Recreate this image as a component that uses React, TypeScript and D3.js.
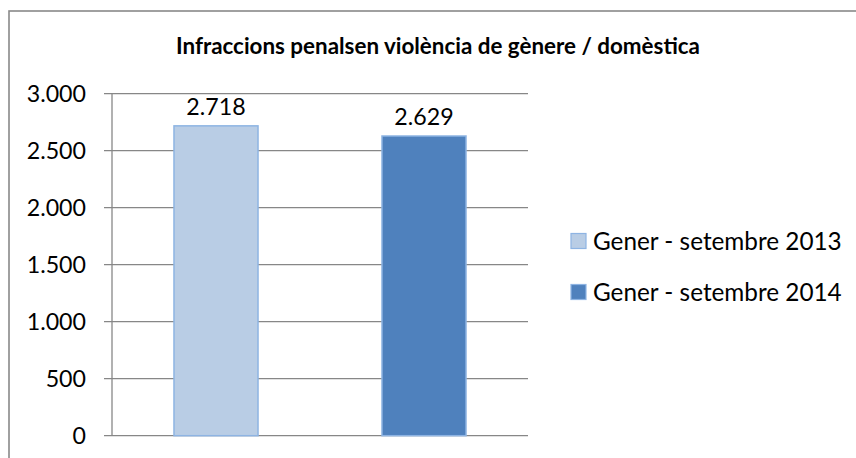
import React from 'react';
import * as d3 from 'd3';

// chart data
const categories = ['Gener - setembre 2013', 'Gener - setembre 2014'];
const values = [2718, 2629];
const colors = ['#b9cde5', '#4f81bd'];
const yTicks = [0, 500, 1000, 1500, 2000, 2500, 3000];
const title = 'Infraccions penalsen violència de gènere / domèstica';

const W = 856;
const H = 458;
const font = 'Lato, "Open Sans", sans-serif';
const fmt = (v: number) => d3.format(',')(v).replace(/,/g, '.');

const plot = {left: 112, right: 528, top: 93.7, bottom: 435.7};

export default function App() {
    const x = d3.scaleBand()
        .domain(categories)
        .range([plot.left, plot.right])
        .paddingInner(0.596)
        .paddingOuter(0.298);
    const y = d3.scaleLinear()
        .domain([0, 3000])
        .range([plot.bottom, plot.top]);

    return (
        <svg width={W} height={H} style={{position: 'absolute', left: 0, top: 0, background: '#fff'}}>
            {/* outer frame, cut by the picture edge */}
            <rect x={9} y={11} width={900} height={500} fill="#fff" stroke="#898989" strokeWidth={1.6}/>

            <text x={438} y={54} textAnchor="middle" fontFamily={font} fontWeight="bold" fontSize={22.4} fill="#000">
                {title}
            </text>

            {/* grid + y ticks */}
            {yTicks.map(t => (
                <g key={t}>
                    <line x1={plot.left - 8} x2={plot.right} y1={y(t)} y2={y(t)} stroke="#878787" strokeWidth={1.3}/>
                    <text x={86} y={y(t)} dy="0.36em" textAnchor="end" fontFamily={font} fontSize={23.2} fill="#000">
                        {fmt(t)}
                    </text>
                </g>
            ))}
            <line x1={plot.left} x2={plot.left} y1={y(3000)} y2={y(0)} stroke="#878787" strokeWidth={1.3}/>

            {/* bars */}
            {categories.map((c, i) => (
                <g key={c}>
                    <rect x={x(c)} y={y(values[i])} width={x.bandwidth()} height={y(0) - y(values[i])}
                          fill={colors[i]} stroke="#8eb4e3" strokeWidth={1.5}/>
                    <text x={(x(c) as number) + x.bandwidth() / 2} y={y(values[i]) - 11} textAnchor="middle"
                          fontFamily={font} fontSize={23.2} fill="#000">
                        {fmt(values[i])}
                    </text>
                </g>
            ))}

            {/* legend */}
            {categories.map((c, i) => (
                <g key={'lg' + c} transform={`translate(571, ${241 + i * 51})`}>
                    <rect x={0} y={-7.5} width={15} height={15} fill={colors[i]} stroke="#8eb4e3" strokeWidth={1.2}/>
                    <text x={22} y={0} dy="0.36em" fontFamily={font} fontSize={24.3} fill="#000">{c}</text>
                </g>
            ))}
        </svg>
    );
}
